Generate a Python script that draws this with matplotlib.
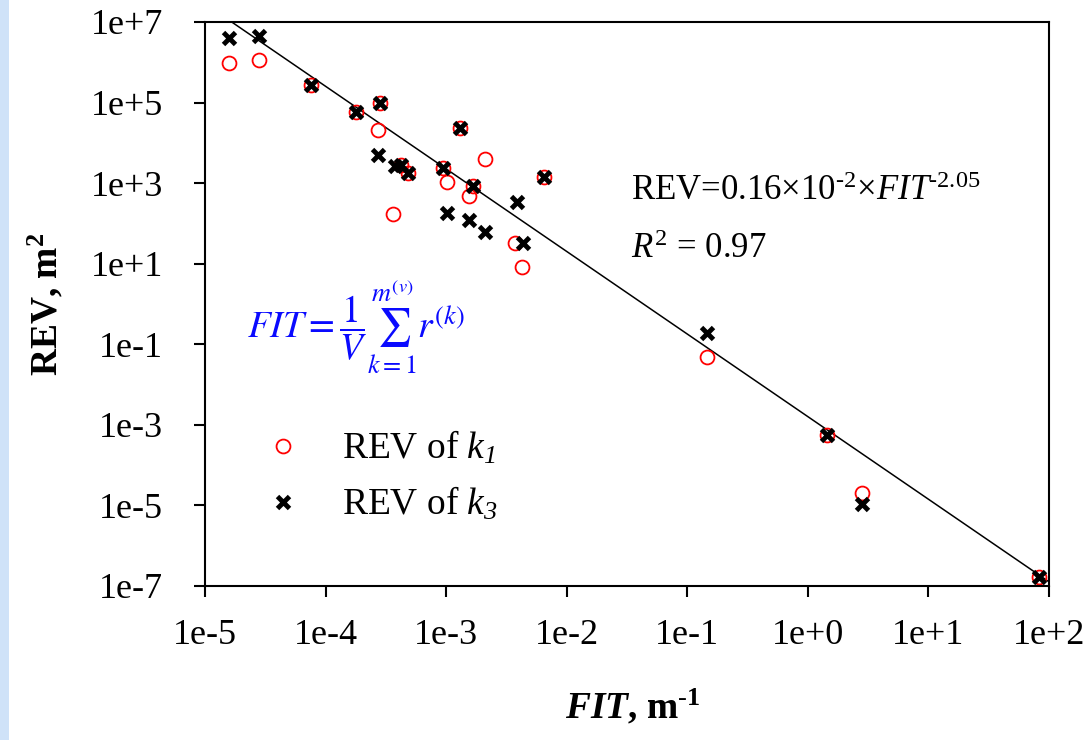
import numpy as np
import matplotlib
matplotlib.use("Agg")
import matplotlib.pyplot as plt
from matplotlib.ticker import FixedLocator, FuncFormatter, NullLocator
from matplotlib.patches import Rectangle

plt.rcParams['font.family'] = ['Liberation Serif', 'DejaVu Serif']
plt.rcParams['mathtext.fontset'] = 'custom'
plt.rcParams['mathtext.rm'] = 'Liberation Serif'
plt.rcParams['mathtext.it'] = 'Liberation Serif:italic'
plt.rcParams['mathtext.bf'] = 'Liberation Serif:bold'
plt.rcParams['mathtext.bfit'] = 'Liberation Serif:bold:italic'
# italic digits for the legend subscripts
plt.rcParams['mathtext.cal'] = 'Liberation Serif:italic'
plt.rcParams['mathtext.fallback'] = 'stix'

# REV of k1 (red circles)
fit_k1 = [1.59e-5, 2.79e-5, 7.57e-5, 1.79e-4, 2.83e-4, 2.74e-4, 4.22e-4, 4.86e-4,
          3.64e-4, 9.35e-4, 1.02e-3, 1.30e-3, 2.10e-3, 1.66e-3, 1.56e-3, 3.72e-3,
          4.23e-3, 6.5e-3, 0.1445, 1.43, 2.82, 82.3]
rev_k1 = [9.8e5, 1.16e6, 2.73e5, 5.74e4, 9.8e4, 2.05e4, 2.83e3, 1.82e3,
          172, 2.43e3, 1.09e3, 2.3e4, 3.98e3, 867, 481, 32.3,
          8.2, 1.40e3, 0.0479, 5.65e-4, 2.09e-5, 1.72e-7]

# REV of k3 (black crosses)
fit_k3 = [1.59e-5, 2.79e-5, 7.57e-5, 1.79e-4, 2.83e-4, 2.74e-4, 3.76e-4, 4.22e-4,
          4.86e-4, 9.35e-4, 1.02e-3, 1.30e-3, 1.66e-3, 1.56e-3, 2.10e-3, 3.85e-3,
          4.31e-3, 6.5e-3, 0.1445, 1.43, 2.82, 82.3]
rev_k3 = [3.94e6, 4.57e6, 2.73e5, 5.74e4, 9.8e4, 5.0e3, 2.67e3, 2.83e3,
          1.82e3, 2.43e3, 179, 2.3e4, 867, 122, 60.5, 348,
          32.3, 1.40e3, 0.195, 5.65e-4, 1.1e-5, 1.72e-7]

# power-law fit REV = a * FIT^b
a_fit = 0.16e-2
b_fit = -2.05

x_ticks = [1e-5, 1e-4, 1e-3, 1e-2, 1e-1, 1e0, 1e1, 1e2]
y_ticks = [1e-7, 1e-5, 1e-3, 1e-1, 1e1, 1e3, 1e5, 1e7]


def sci_label(v, pos):
    e = int(round(np.log10(v)))
    return "1e%+d" % e


fig = plt.figure(figsize=(10.92, 7.4), dpi=100)
fig.patches.append(Rectangle((0, 0), 9 / 1092, 1, transform=fig.transFigure,
                             facecolor='#cfe2f8', edgecolor='none', zorder=0))
ax = fig.add_axes([205 / 1092, 1 - 586 / 740, 844 / 1092, 564 / 740])

xf = np.logspace(-5, 2, 200)
ax.plot(xf, a_fit * xf ** b_fit, color='black', lw=1.1, zorder=1)

ax.plot(fit_k1, rev_k1, linestyle='none', marker='o', markersize=10,
        markerfacecolor='none', markeredgecolor='#ff0000', markeredgewidth=1.3,
        label=r'REV of $k_{\mathcal{1}}$', zorder=2)
ax.plot(fit_k3, rev_k3, linestyle='none', marker='x', markersize=8,
        color='black', markeredgewidth=3.5,
        label=r'REV of $k_{\mathcal{3}}$', zorder=3)

ax.set_xscale('log')
ax.set_yscale('log')
ax.set_xlim(1e-5, 1e2)
ax.set_ylim(1e-7, 1e7)

ax.xaxis.set_major_locator(FixedLocator(x_ticks))
ax.yaxis.set_major_locator(FixedLocator(y_ticks))
ax.xaxis.set_minor_locator(NullLocator())
ax.yaxis.set_minor_locator(NullLocator())
ax.xaxis.set_major_formatter(FuncFormatter(sci_label))
ax.yaxis.set_major_formatter(FuncFormatter(sci_label))
ax.tick_params(axis='both', direction='out', length=8, width=1.5, labelsize=26)
ax.tick_params(axis='x', pad=16)
ax.tick_params(axis='y', pad=22)
for s in ax.spines.values():
    s.set_linewidth(1.5)

ax.set_ylabel(r'REV, m$^\mathbf{2}$', fontsize=27, fontweight='bold', labelpad=18)
ax.set_xlabel(r'$\mathbfit{FIT}$, m$^{\mathbf{\text{-}1}}$', fontsize=27,
              fontweight='bold')
ax.xaxis.set_label_coords(0.507, -0.18)

ax.text(0.505, 0.7, r'REV=0.16$\times$10$^{\text{-}2}$$\times$$FIT$$^{\text{-}2.05}$',
        transform=ax.transAxes, fontsize=25, ha='left', va='center')
ax.text(0.505, 0.597, r'$R^2$ = 0.97', transform=ax.transAxes,
        fontsize=25, ha='left', va='center')

ax.text(0.05, 0.46, r'$FIT=\dfrac{1}{V}\sum_{k=1}^{m^{(v)}}r^{(k)}$',
        transform=ax.transAxes, fontsize=27, color='#0a0aff', ha='left', va='center',
        math_fontfamily='stix')

ax.legend(loc='center left', bbox_to_anchor=(0.052, 0.195), frameon=False,
          fontsize=27, handlelength=1.0, handletextpad=1.07, labelspacing=0.5,
          borderaxespad=0)

fig.savefig('out.png', dpi=100)
